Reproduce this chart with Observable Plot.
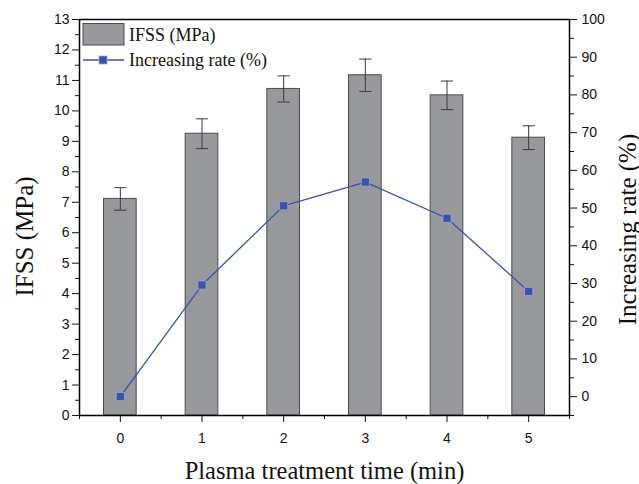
<!DOCTYPE html>
<html><head><meta charset="utf-8">
<script src="https://cdn.jsdelivr.net/npm/d3@7"></script>
<script src="https://cdn.jsdelivr.net/npm/@observablehq/plot@0.6"></script>
<style>
body{margin:0;background:#fff}
#chart{position:relative;width:639px;height:484px}
</style>
</head><body><div id="chart"></div>
<script>
// ---- data ----
const times = [0, 1, 2, 3, 4, 5];
const ifss = [7.11, 9.25, 10.72, 11.17, 10.51, 9.12];
const ifssErr = [0.37, 0.49, 0.43, 0.53, 0.47, 0.39];
const rate = [0, 29.6, 50.6, 56.9, 47.3, 27.9];
const leftTicks = d3.range(0, 14, 1);
const rightTicks = d3.range(0, 101, 10);
const xTicks = times;
const seriesNames = ["IFSS (MPa)", "Increasing rate (%)"];
const xTitle = "Plasma treatment time (min)";

// ---- scales mapping ----
const L0 = 0, L1 = 13, R0 = -5, R1 = 100;
const toLeft = v => L0 + (v - R0) / (R1 - R0) * (L1 - L0);
const fromLeft = y => R0 + (y - L0) / (L1 - L0) * (R1 - R0);

const data = times.map((t, i) => ({t, ifss: ifss[i], err: ifssErr[i], rate: rate[i]}));

const barFill = "#98999d", barStroke = "#4d4d4f", blue = "#3953a8";
const serif = "'Liberation Serif', 'Times New Roman', serif";

const chart = Plot.plot({
  width: 639, height: 484,
  marginLeft: 79, marginRight: 70, marginTop: 19, marginBottom: 69,
  style: {fontFamily: "'Liberation Sans', Arial, sans-serif", fontSize: "14px", color: "#111", background: "#fff"},
  x: {domain: [-0.5, 5.5]},
  y: {domain: [L0, L1]},
  marks: [
    Plot.rect(data, {x1: d => d.t - 0.2, x2: d => d.t + 0.2, y1: 0, y2: "ifss", fill: barFill, stroke: barStroke, strokeWidth: 1}),
    Plot.ruleX(data, {x: "t", y1: d => d.ifss - d.err, y2: d => d.ifss + d.err, stroke: "#3a3a3a", strokeWidth: 1}),
    Plot.link(data, {x1: d => d.t - 0.075, x2: d => d.t + 0.075, y1: d => d.ifss + d.err, y2: d => d.ifss + d.err, stroke: "#3a3a3a", strokeWidth: 1}),
    Plot.link(data, {x1: d => d.t - 0.075, x2: d => d.t + 0.075, y1: d => d.ifss - d.err, y2: d => d.ifss - d.err, stroke: "#3a3a3a", strokeWidth: 1}),
    Plot.line(data, {x: "t", y: d => toLeft(d.rate), stroke: blue, strokeWidth: 1.3}),
    Plot.dot(data, {x: "t", y: d => toLeft(d.rate), symbol: "square", r: 4.6, fill: blue, stroke: "#9aa8d4", strokeWidth: 0.8}),
    // left axis
    Plot.axisY({anchor: "left", ticks: leftTicks, tickSize: 7, tickPadding: 3, label: null}),
    Plot.axisY({anchor: "left", ticks: d3.range(0.5, 13, 1), tickSize: 4, tickFormat: () => "", label: null}),
    // right axis
    Plot.axisY({anchor: "right", ticks: rightTicks.map(toLeft), tickFormat: y => String(Math.round(fromLeft(y))), tickSize: 7, tickPadding: 5, label: null}),
    Plot.axisY({anchor: "right", ticks: d3.range(-5, 100, 10).map(toLeft), tickSize: 4, tickFormat: () => "", label: null}),
    // bottom axis
    Plot.axisX({ticks: xTicks, tickSize: 7, tickPadding: 11, tickFormat: d => String(d), label: null}),
    Plot.axisX({ticks: d3.range(-0.5, 5.6, 1), tickSize: 4, tickFormat: () => "", label: null}),
    Plot.frame({stroke: "#000", strokeWidth: 1.5}),
    // titles
    Plot.text([seriesNames[0]], {frameAnchor: "left", dx: -55, dy: 19, rotate: -90, textAnchor: "middle", lineAnchor: "middle", text: d => d, fontFamily: serif, fontSize: 25, fill: "#111"}),
    Plot.text([seriesNames[1]], {frameAnchor: "right", dx: 58, dy: 12, rotate: -90, textAnchor: "middle", lineAnchor: "middle", text: d => d, fontFamily: serif, fontSize: 25, fill: "#111"}),
    Plot.text([xTitle], {frameAnchor: "bottom", dy: 56, textAnchor: "middle", lineAnchor: "middle", text: d => d, fontFamily: serif, fontSize: 24.5, fill: "#111"})
  ]
});
document.getElementById("chart").appendChild(chart);

// legend (inside plot, top-left)
const svg = d3.select(chart);
const lg = svg.append("g");
lg.append("rect").attr("x", 83).attr("y", 23.5).attr("width", 41).attr("height", 21.5).attr("fill", barFill).attr("stroke", barStroke);
lg.append("line").attr("x1", 83).attr("x2", 124).attr("y1", 60).attr("y2", 60).attr("stroke", blue).attr("stroke-width", 1.3);
lg.append("rect").attr("x", 99).attr("y", 56).attr("width", 8).attr("height", 8).attr("fill", blue).attr("stroke", "#9aa8d4").attr("stroke-width", 0.8);
[[seriesNames[0], 41], [seriesNames[1], 66]].forEach(([s, y]) => {
  lg.append("text").attr("x", 129).attr("y", y)
    .style("font-family", serif).style("font-size", "18px").style("fill", "#111").style("text-anchor", "start")
    .text(s);
});
</script>
</body></html>
